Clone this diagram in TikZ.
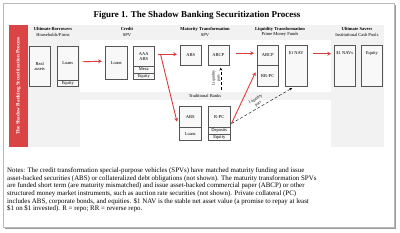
\documentclass[tikz,border=0pt]{standalone}
\usepackage{fontspec}
\setmainfont{Liberation Serif}
\usetikzlibrary{calc,arrows.meta}
\definecolor{bandred}{RGB}{218,68,68}
\definecolor{arrred}{RGB}{222,60,60}
\definecolor{panel}{RGB}{242,242,242}
\definecolor{boxc}{RGB}{85,85,85}
\definecolor{boxfill}{RGB}{248,248,248}
\begin{document}
\begin{tikzpicture}[x=1pt,y=-1pt,
 bx/.style={draw=boxc, line width=0.5pt, fill=boxfill, inner sep=0pt, align=center,
   font=\fontsize{4.5}{5}\selectfont, anchor=north west},
 hdr/.style={align=center, font=\fontsize{4.5}{5.4}\selectfont, inner sep=0pt},
 boxtxt/.style={font=\fontsize{4.5}{5}\selectfont, inner sep=0pt},
 redarr/.style={draw=arrred, line width=0.9pt, -{Stealth[length=3.8pt,width=3.8pt]}},
 blkarr/.style={draw=black, line width=0.4pt, densely dashed, -{Stealth[length=3pt,width=2.5pt]}},
 lab/.style={font=\fontsize{4}{5}\selectfont, align=center, inner sep=0.5pt},
 note/.style={anchor=base west, inner sep=0pt, font=\fontsize{6.9}{8}\selectfont}
]
\useasboundingbox (0,0) rectangle (400,233);
\fill[white] (0,0) rectangle (400,233);
% frame
\draw[gray!55, line width=0.8pt] (3,3) rectangle (394,227);
\draw[gray!80, line width=1.2pt] (395.5,5) -- (395.5,228.6) -- (5,228.6);
% title
\node[font=\bfseries\fontsize{9}{10}\selectfont, inner sep=0pt] (title) at (197,15) {Figure 1. The Shadow Banking Securitization Process};
% panels
\fill[panel] (28,25) rectangle (384,147);
\fill[white] (80,40) rectangle (331,92);
\fill[white] (80,100) rectangle (331,147);
\fill[bandred] (9,25) rectangle (28,147);
\node[rotate=90, text=white, font=\bfseries\fontsize{5.2}{6}\selectfont, inner sep=0pt] (band) at (18.5,86) {The Shadow Banking Securitization Process};
% headers
\node[hdr] (h1) at (53,32) {\textbf{Ultimate Borrowers}\\Households/Firms};
\node[hdr] (h2) at (127,32) {\textbf{Credit}\\SPV};
\node[hdr] (h3) at (205,32) {\textbf{Maturity Transformation}\\SPV};
\node[hdr] (h4) at (280,32) {\textbf{Liquidity Transformation}\\Prime Money Funds};
\node[hdr] (h5) at (357,32) {\textbf{Ultimate Savers}\\Institutional Cash Pools};
\node[hdr] (h6) at (205,96) {Traditional Banks};
% boxes
\node[bx, minimum width=21pt, minimum height=40pt] (ra) at (29,46) {Real\\assets};
\node[bx, minimum width=21pt, minimum height=34pt] (ln1) at (57,46) {Loans};
\node[bx, minimum width=21pt, minimum height=6pt] (eq1) at (57,80) {Equity};
\node[bx, minimum width=22pt, minimum height=33pt] (ln2) at (105,46) {Loans};
\node[bx, minimum width=21pt, minimum height=20pt] (aaa) at (133,46) {AAA\\ABS};
\node[bx, minimum width=21pt, minimum height=6.5pt] (mez) at (133,66) {Mezz};
\node[bx, minimum width=21pt, minimum height=6.5pt] (eq2) at (133,72.5) {Equity};
\node[bx, minimum width=21pt, minimum height=20pt] (abs) at (180,45) {ABS};
\node[bx, minimum width=21pt, minimum height=20pt] (mabcp) at (207.5,45) {ABCP};
\node[bx, minimum width=21pt, minimum height=20pt] (labcp) at (257,45) {ABCP};
\node[bx, minimum width=21pt, minimum height=21pt] (rrpc) at (257,65) {RR-PC};
\node[bx, minimum width=22pt, minimum height=41pt] (nav) at (285,45) {};
\node[boxtxt] (navt) at ($(nav.north)+(0,8.5)$) {\$1 NAV};
\node[bx, minimum width=21pt, minimum height=41pt] (navs) at (334,45) {};
\node[boxtxt] (navst) at ($(navs.north)+(0,8.5)$) {\$1 NAVs};
\node[bx, minimum width=21pt, minimum height=41pt] (eq3) at (361,45) {};
\node[boxtxt] (eq3t) at ($(eq3.north)+(0,8.5)$) {Equity};
\node[bx, minimum width=22pt, minimum height=21pt] (tabs) at (179,106) {ABS};
\node[bx, minimum width=22pt, minimum height=13pt] (tln) at (179,127) {Loans};
\node[bx, minimum width=22pt, minimum height=21pt] (trpc) at (208,106) {R-PC};
\node[bx, minimum width=22pt, minimum height=6.5pt] (dep) at (208,127) {Deposits};
\node[bx, minimum width=22pt, minimum height=6.5pt] (eq4) at (208,133.5) {Equity};
% arrows
\draw[redarr] ($(ln1.east)+(4,-1.5)$) -- ($(ln2.west)+(-3,-1.5)$);
\coordinate (s1) at ($(aaa.east)+(3,-2)$);
\coordinate (br) at ($(aaa.east)+(6,-2)$);
\draw[redarr] (s1) -- ($(s1 -| abs.west)+(-3,0)$);
\draw[redarr] (br) -- ($(tabs.west)+(-2,5)$);
\draw[redarr] ($(mabcp.east)+(7,-2)$) -- ($(labcp.west)+(-3,-2)$);
\draw[redarr] ($(nav.east)+(5,-12)$) -- ($(navs.west)+(-3,-12)$);
\coordinate (tb) at ($(trpc.south east)+(1,-4)$);
\coordinate (te) at ($(nav.south)+(-4,1.5)$);
\draw[redarr] (tb) -- ($(rrpc.west)+(-1.5,-3.5)$);
\draw[blkarr] (tb) -- (te);
\path (tb) -- node[lab, sloped, above=1.2pt, pos=0.47] (lp1) {Liquidity\\puts} (te);
\draw[blkarr] ($(mabcp.south)+(2.5,24)$) -- ($(mabcp.south)+(2.5,2)$);
\node[lab, rotate=90] (lp2) at ($(mabcp.south)+(-2,12.5)$) {Liquidity\\puts};
% notes
\node[note] (n1) at (7,172.5) {Notes: The credit transformation special-purpose vehicles (SPVs) have matched maturity funding and issue};
\node[note] (n2) at (7,180.2) {asset-backed securities (ABS) or collateralized debt obligations (not shown). The maturity transformation SPVs};
\node[note] (n3) at (7,187.9) {are funded short term (are maturity mismatched) and issue asset-backed commercial paper (ABCP) or other};
\node[note] (n4) at (7,195.6) {structured money market instruments, such as auction rate securities (not shown). Private collateral (PC)};
\node[note] (n5) at (7,203.3) {includes ABS, corporate bonds, and equities. \$1 NAV is the stable net asset value (a promise to repay at least};
\node[note] (n6) at (7,211.0) {\$1 on \$1 invested). R = repo; RR = reverse repo.};
\end{tikzpicture}
\end{document}
